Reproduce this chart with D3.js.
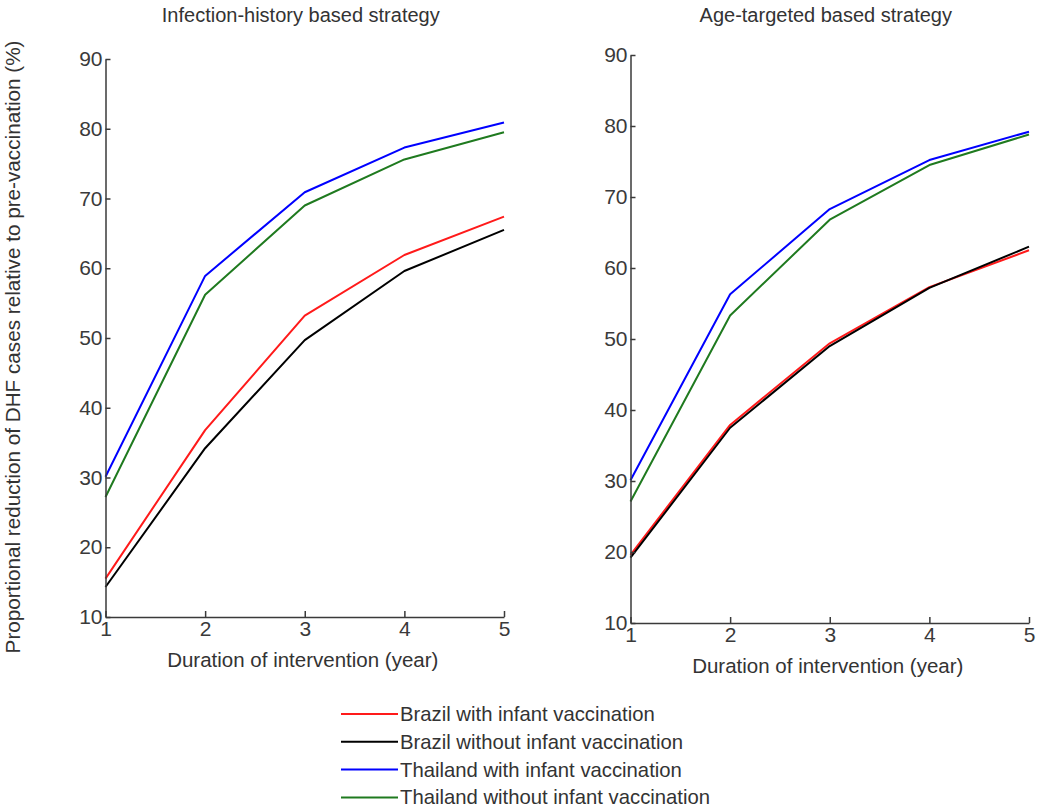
<!DOCTYPE html>
<html>
<head>
<meta charset="utf-8">
<script src="https://cdn.jsdelivr.net/npm/d3@7"></script>
<style>
  body { margin: 0; background: #fff; }
  text { font-family: "Liberation Sans", Arial, sans-serif; }
</style>
</head>
<body>
<div id="chart"></div>
<script>
// durations (years)
const years = [1, 2, 3, 4, 5];
const yTicks = [10, 20, 30, 40, 50, 60, 70, 80, 90];

const seriesNames = [
    "Brazil with infant vaccination",
    "Brazil without infant vaccination",
    "Thailand with infant vaccination",
    "Thailand without infant vaccination"
];
const seriesColors = ["#ff1a1a", "#000000", "#0000ff", "#1f7a1f"];

// infection-history based strategy
const infBrazilWith = [15.5, 36.8, 53.2, 61.9, 67.4];
const infBrazilWithout = [14.3, 34.2, 49.7, 59.6, 65.5];
const infThaiWith = [30.1, 58.9, 70.9, 77.3, 80.9];
const infThaiWithout = [27.2, 56.2, 69.0, 75.6, 79.5];

// age-targeted based strategy
const ageBrazilWith = [19.6, 37.9, 49.4, 57.3, 62.5];
const ageBrazilWithout = [19.2, 37.5, 49.0, 57.2, 63.0];
const ageThaiWith = [30.1, 56.3, 68.3, 75.2, 79.2];
const ageThaiWithout = [27.1, 53.3, 66.8, 74.5, 78.8];

const width = 1050, height = 812;

const svg = d3.select("#chart").append("svg")
    .attr("width", width)
    .attr("height", height);

//draw one panel
function drawPanel(opt) {
    const x = d3.scaleLinear().domain([1, 5]).range([opt.x0, opt.x1]);
    const y = d3.scaleLinear().domain([10, 90]).range([opt.y0, opt.y1]);

    const g = svg.append("g");

    // lines
    const line = d3.line()
        .x((d, i) => x(years[i]))
        .y(d => y(d));

    g.selectAll(".line")
        .data(opt.series)
        .enter()
        .append("path")
        .attr("class", "line")
        .attr("fill", "none")
        .attr("stroke", (d, i) => seriesColors[i])
        .attr("stroke-width", 2)
        .attr("stroke-linejoin", "round")
        .attr("d", d => line(d));

    const xAxis = d3.axisBottom(x)
        .tickValues(years)
        .tickFormat(d3.format("d"))
        .tickSizeInner(-6)
        .tickSizeOuter(0)
        .tickPadding(4);

    const yAxis = d3.axisLeft(y)
        .tickValues(yTicks)
        .tickFormat(d3.format("d"))
        .tickSizeInner(-5)
        .tickSizeOuter(0)
        .tickPadding(3);

    const gx = g.append("g")
        .attr("transform", "translate(0," + opt.y0 + ")")
        .call(xAxis);
    const gy = g.append("g")
        .attr("transform", "translate(" + opt.x0 + ",0)")
        .call(yAxis);

    [gx, gy].forEach(a => {
        a.select(".domain").attr("stroke", "#3a3a3a").attr("stroke-width", 1.5);
        a.selectAll(".tick line").attr("stroke", "#3a3a3a").attr("stroke-width", 1.5);
        a.selectAll(".tick text")
            .attr("fill", "#3a3a3a")
            .style("font-size", "21px")
            .style("font-family", "'Liberation Sans', Arial, sans-serif");
    });

    g.append("text")
        .attr("x", (opt.x0 + opt.x1) / 2 - 4)
        .attr("y", 22)
        .attr("text-anchor", "middle")
        .attr("fill", "#333")
        .style("font-size", "20px")
        .text(opt.title);

    g.append("text")
        .attr("x", (opt.x0 + opt.x1) / 2 - 2)
        .attr("y", opt.y0 + 50)
        .attr("text-anchor", "middle")
        .attr("fill", "#333")
        .style("font-size", "20.5px")
        .text("Duration of intervention (year)");
}

drawPanel({
    x0: 105.5, x1: 504, y0: 617, y1: 59,
    title: "Infection-history based strategy",
    series: [infBrazilWith, infBrazilWithout, infThaiWith, infThaiWithout]
});

drawPanel({
    x0: 630.5, x1: 1029, y0: 623, y1: 55,
    title: "Age-targeted based strategy",
    series: [ageBrazilWith, ageBrazilWithout, ageThaiWith, ageThaiWithout]
});

// y label
svg.append("text")
    .attr("transform", "translate(20,347) rotate(-90)")
    .attr("text-anchor", "middle")
    .attr("fill", "#333")
    .style("font-size", "20.7px")
    .text("Proportional reduction of DHF cases relative to pre-vaccination (%)");

// legend
const legend = svg.append("g").attr("transform", "translate(341,714)");
const rows = legend.selectAll(".row")
    .data(seriesNames)
    .enter()
    .append("g")
    .attr("class", "row")
    .attr("transform", (d, i) => "translate(0," + (i * 27.8) + ")");

rows.append("line")
    .attr("x1", 0).attr("x2", 57)
    .attr("stroke", (d, i) => seriesColors[i])
    .attr("stroke-width", 2);

rows.append("text")
    .attr("x", 59)
    .attr("y", 7)
    .attr("fill", "#333")
    .style("font-size", "20.3px")
    .text(d => d);
</script>
</body>
</html>
